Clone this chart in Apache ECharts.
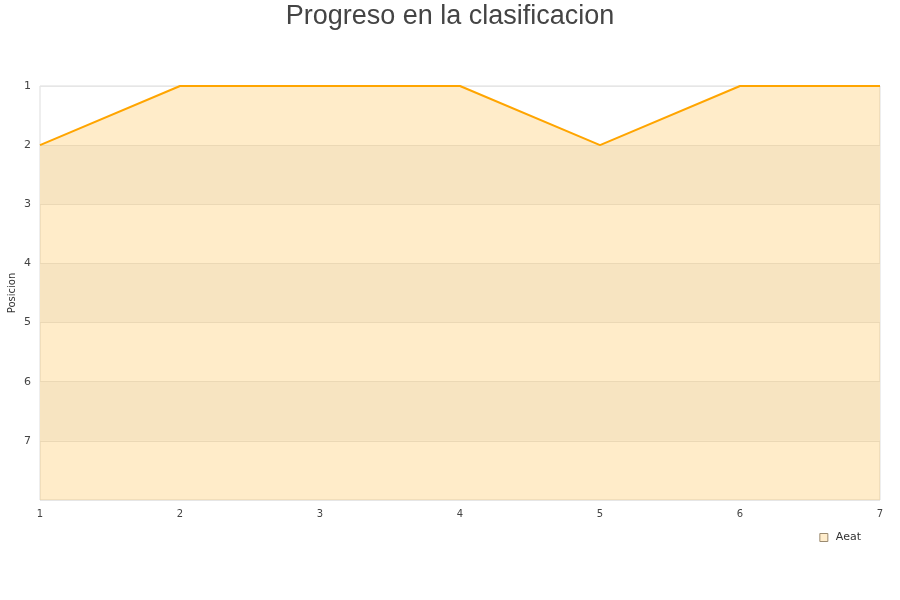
<!DOCTYPE html>
<html><head><meta charset="utf-8">
<script src="https://cdn.jsdelivr.net/npm/echarts@6/dist/echarts.min.js"></script>
<style>html,body{margin:0;padding:0;background:#fff}#c{width:900px;height:600px}</style>
</head><body><div id="c"></div>
<script>
var jornadas = [1, 2, 3, 4, 5, 6, 7];
var posiciones = [2, 1, 1, 1, 2, 1, 1];
var seriesName = 'Aeat';
var titleText = 'Progreso en la clasificacion';
var yAxisName = 'Posicion';

var chart = echarts.init(document.getElementById('c'));
chart.setOption({
  animation: false,
  title: {
    text: titleText, left: 'center', top: -2,
    textStyle: {fontFamily: 'Liberation Sans, Arial', fontSize: 27, fontWeight: 'normal', color: '#444'}
  },
  grid: {left: 40, right: 20, top: 86, bottom: 100, containLabel: false, outerBoundsMode: 'none',
    show: true, borderColor: '#ddd', borderWidth: 1, backgroundColor: 'transparent'},
  legend: {
    right: 34, top: 527, itemWidth: 8, itemHeight: 8, icon: 'rect',
    data: [{name: seriesName, itemStyle: {color: '#FFEDCC', borderColor: '#9a8a70', borderWidth: 1}}],
    textStyle: {fontFamily: 'DejaVu Sans', fontSize: 11, color: '#333', padding: [0, 0, 0, 3]}
  },
  xAxis: {
    type: 'value', min: 1, max: 7, interval: 1,
    axisLine: {show: false}, axisTick: {show: false}, splitLine: {show: false},
    axisLabel: {fontFamily: 'DejaVu Sans', fontSize: 10, color: '#444', margin: 9}
  },
  yAxis: {
    type: 'value', inverse: true, min: 1, max: 8, interval: 1,
    name: yAxisName, nameLocation: 'middle', nameGap: 23, nameMoveOverlap: false,
    nameTextStyle: {fontFamily: 'DejaVu Sans', fontSize: 10, color: '#333'},
    axisLine: {show: false}, axisTick: {show: false},
    axisLabel: {fontFamily: 'DejaVu Sans', fontSize: 11, color: '#444', margin: 9,
      formatter: function (v) { return v === 8 ? '' : String(v); }},
    splitLine: {show: true, lineStyle: {color: '#e6e6e6', width: 1}},
    splitArea: {show: true, areaStyle: {color: ['rgba(255,255,255,0)', '#f5f5f5']}}
  },
  series: [{
    name: seriesName, type: 'line',
    data: jornadas.map(function (j, i) { return [j, posiciones[i]]; }),
    showSymbol: false, symbol: 'none',
    lineStyle: {color: '#FFA500', width: 2},
    itemStyle: {color: '#FFEDCC'},
    areaStyle: {color: '#FFA500', opacity: 0.21, origin: 'end'}
  }]
});
</script></body></html>
